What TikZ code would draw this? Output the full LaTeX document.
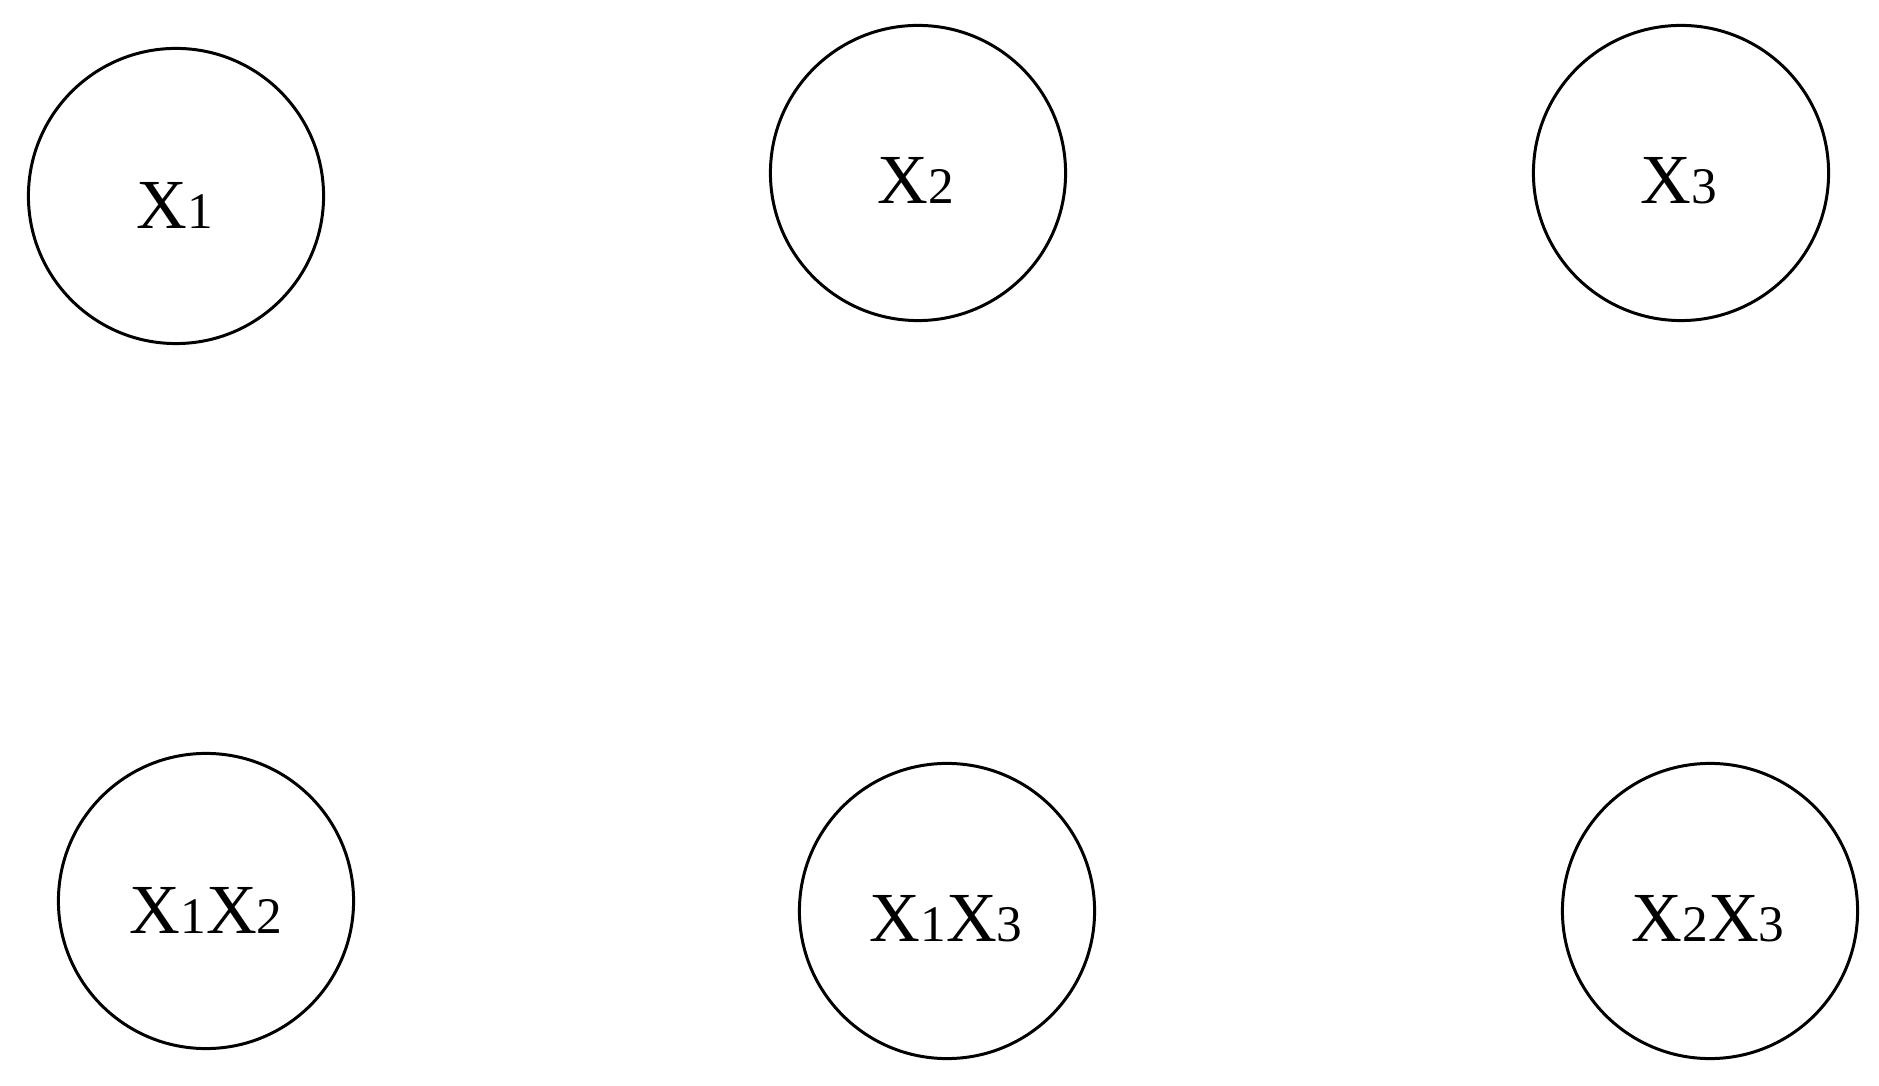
\documentclass[tikz,border=0pt]{standalone}
\usepackage{fontspec}
\setmainfont{Liberation Serif}
\newcommand{\sm}[1]{{\fontsize{14.6pt}{15pt}\selectfont #1}}
\tikzset{
  circ/.style={draw, circle, line width=0.85pt, minimum size=2.95cm, inner sep=0pt},
  lab/.style={anchor=base, inner sep=0pt, font=\fontsize{20pt}{22pt}\selectfont}
}
\begin{document}
\begin{tikzpicture}[x=0.01cm, y=-0.01cm]
\useasboundingbox (0,0) rectangle (1879,1086);
\node[circ] (c1) at (176,196) {};
\node[circ] (c2) at (918,173) {};
\node[circ] (c3) at (1681,173) {};
\node[circ] (c12) at (206,901) {};
\node[circ] (c13) at (947,911) {};
\node[circ] (c23) at (1710,911) {};
\node[lab] (t1) at (175,229) {X\sm{1}};
\node[lab] (t2) at (916,204) {X\sm{2}};
\node[lab] (t3) at (1679,204) {X\sm{3}};
\node[lab] (t12) at (206,933) {X\sm{1}X\sm{2}};
\node[lab] (t13) at (946,942) {X\sm{1}X\sm{3}};
\node[lab] (t23) at (1708,942) {X\sm{2}X\sm{3}};
\end{tikzpicture}
\end{document}
